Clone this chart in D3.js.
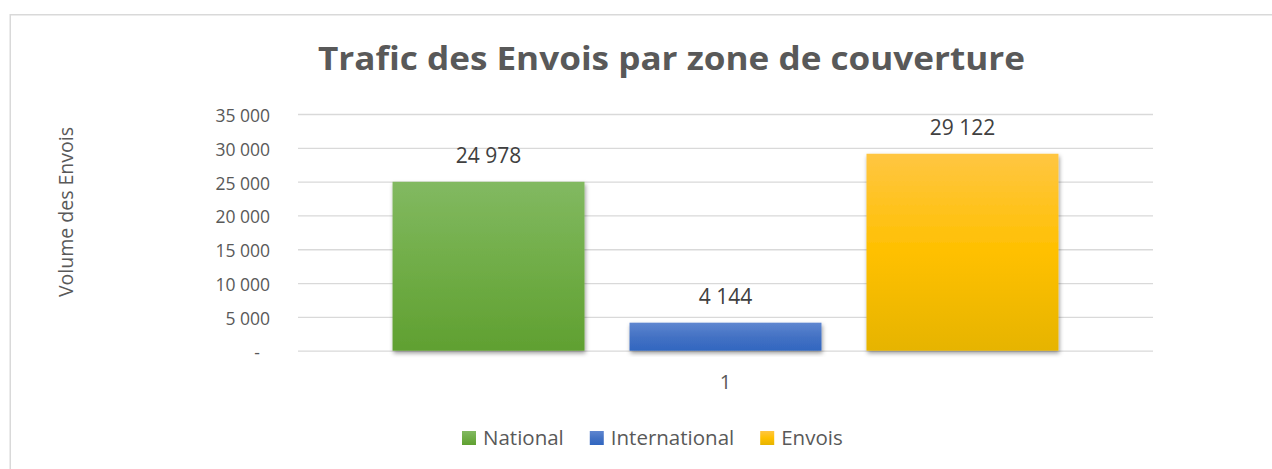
<!DOCTYPE html>
<html lang="fr">
<head>
<meta charset="utf-8">
<script src="https://cdn.jsdelivr.net/npm/d3@7/dist/d3.min.js"></script>
<style>
  body { margin: 0; background: #fff; }
  svg { display: block; font-family: "Open Sans", "Noto Sans", sans-serif; }
  .axis text { fill: #595959; font-family: "Open Sans", "Noto Sans", sans-serif; }
  .grid line { stroke: #d9d9d9; stroke-width: 1.3; }
</style>
</head>
<body>
<script>
// data
var categories = ["1"];
var series = ["National", "International", "Envois"];
var values = [24978, 4144, 29122];
var yTickValues = [0, 5000, 10000, 15000, 20000, 25000, 30000, 35000];
var title = "Trafic des Envois par zone de couverture";
var yLabel = "Volume des Envois";

// gradient stops per series (light, base, dark)
var colors = [
  ["#82b961", "#70ad47", "#60a031"],
  ["#5f86d0", "#4472c4", "#3166c0"],
  ["#ffc642", "#ffc000", "#e6b400"]
];

var width = 1272, height = 469;
var plot = { left: 298, right: 1153, top: 114, bottom: 350.7 };

var svg = d3.select("body").append("svg")
  .attr("width", width)
  .attr("height", height);

var defs = svg.append("defs");
colors.forEach(function(c, i) {
  var g = defs.append("linearGradient")
    .attr("id", "grad" + i)
    .attr("x1", 0).attr("y1", 0).attr("x2", 0).attr("y2", 1);
  g.append("stop").attr("offset", "0%").attr("stop-color", c[0]);
  g.append("stop").attr("offset", "50%").attr("stop-color", c[1]);
  g.append("stop").attr("offset", "100%").attr("stop-color", c[2]);
});
defs.append("filter").attr("id", "shadow")
  .attr("x", "-10%").attr("y", "-10%").attr("width", "130%").attr("height", "130%")
  .append("feDropShadow")
  .attr("dx", 1).attr("dy", 2.5).attr("stdDeviation", 2)
  .attr("flood-color", "#000").attr("flood-opacity", 0.4);

// chart area border
svg.append("rect")
  .attr("x", 10.25).attr("y", 14.75)
  .attr("width", width + 40).attr("height", height + 40)
  .attr("fill", "none")
  .attr("stroke", "#d9d9d9")
  .attr("stroke-width", 1.5);

// title
svg.append("text")
  .attr("x", 318).attr("y", 69.5)
  .attr("font-size", "33px")
  .attr("font-weight", "bold")
  .attr("fill", "#595959")
  .attr("textLength", 707)
  .attr("lengthAdjust", "spacingAndGlyphs")
  .text(title);

// scales
var y = d3.scaleLinear()
  .domain([0, 35000])
  .range([plot.bottom, plot.top]);

var x0 = d3.scaleBand()
  .domain(categories)
  .range([plot.left, plot.right])
  .paddingInner(0)
  .paddingOuter(0.142);

var x1 = d3.scaleBand()
  .domain(series)
  .range([0, x0.bandwidth()])
  .paddingInner(0.19)
  .paddingOuter(0);

var locale = d3.formatLocale({ decimal: ",", thousands: " ", grouping: [3], currency: ["", ""] });
var fmt = locale.format(",.0f");

// y axis with gridlines
var yAxis = svg.append("g")
  .attr("class", "axis grid")
  .attr("transform", "translate(" + plot.left + ",0)")
  .call(d3.axisLeft(y)
    .tickValues(yTickValues)
    .tickSize(-(plot.right - plot.left))
    .tickPadding(28)
    .tickFormat(function(d) { return d === 0 ? "-" : fmt(d); }));
yAxis.select(".domain").remove();
yAxis.selectAll("text")
  .style("font-size", "17.5px")
  .attr("dy", "7.5px");
yAxis.selectAll(".tick")
  .filter(function(d) { return d === 0; })
  .select("text").attr("dx", "-10px");

// x axis (category label only)
var xAxis = svg.append("g")
  .attr("class", "axis")
  .attr("transform", "translate(0," + plot.bottom + ")")
  .call(d3.axisBottom(x0).tickSize(0).tickPadding(0));
xAxis.select(".domain").remove();
xAxis.selectAll("text")
  .style("font-size", "20px")
  .attr("dy", null)
  .attr("y", 38.5);

// bars
var group = svg.append("g")
  .attr("transform", "translate(" + x0(categories[0]) + ",0)");

group.selectAll("rect.bar")
  .data(values)
  .enter().append("rect")
  .attr("class", "bar")
  .attr("x", function(d, i) { return x1(series[i]); })
  .attr("y", function(d) { return y(d); })
  .attr("width", x1.bandwidth())
  .attr("height", function(d) { return y(0) - y(d); })
  .attr("fill", function(d, i) { return "url(#grad" + i + ")"; })
  .attr("filter", "url(#shadow)");

group.selectAll("text.label")
  .data(values)
  .enter().append("text")
  .attr("class", "label")
  .attr("x", function(d, i) { return x1(series[i]) + x1.bandwidth() / 2; })
  .attr("y", function(d) { return y(d) - 19; })
  .attr("text-anchor", "middle")
  .attr("font-size", "21px")
  .attr("fill", "#404040")
  .text(function(d) { return fmt(d); });

// y axis title
svg.append("text")
  .attr("transform", "translate(72.5,212) rotate(-90)")
  .attr("text-anchor", "middle")
  .attr("font-size", "19.5px")
  .attr("fill", "#595959")
  .text(yLabel);

// legend
var legend = svg.append("g").attr("transform", "translate(462,0)");
var lx = 0;
series.forEach(function(s, i) {
  var item = legend.append("g").attr("transform", "translate(" + lx + ",0)");
  item.append("rect")
    .attr("x", 0).attr("y", 431)
    .attr("width", 14).attr("height", 14)
    .attr("fill", "url(#grad" + i + ")");
  var t = item.append("text")
    .attr("x", 21).attr("y", 445)
    .attr("font-size", "20.5px")
    .attr("fill", "#595959")
    .text(s);
  lx += 21 + t.node().getComputedTextLength() + 26;
});
</script>
</body>
</html>
